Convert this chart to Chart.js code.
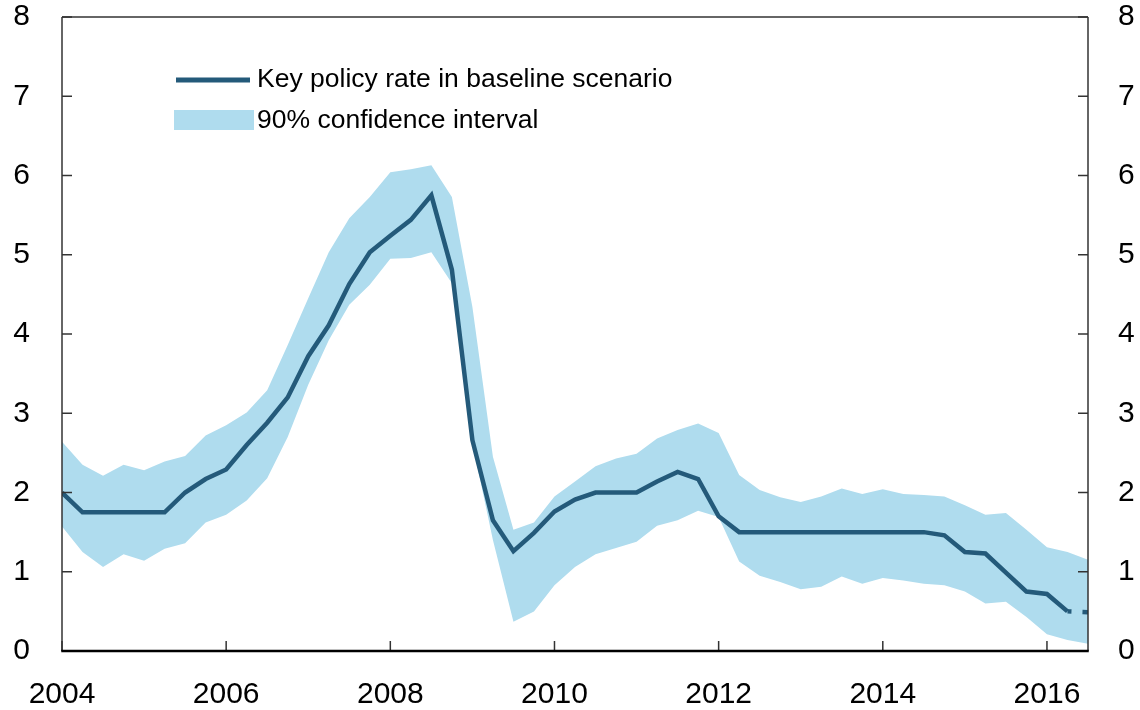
<!DOCTYPE html>
<html>
<head>
<meta charset="utf-8">
<script src="https://cdn.jsdelivr.net/npm/chart.js@4/dist/chart.umd.min.js"></script>
<style>
  html, body { margin: 0; padding: 0; background: #ffffff; }
  #wrap { position: relative; width: 1140px; height: 710px; }
</style>
</head>
<body>
<div id="wrap"><canvas id="c" width="1140" height="710"></canvas></div>
<script>
// Quarterly observations, 2004 Q1 - 2016 Q3
const quarters = [
  "2004Q1","2004Q2","2004Q3","2004Q4","2005Q1","2005Q2","2005Q3","2005Q4",
  "2006Q1","2006Q2","2006Q3","2006Q4","2007Q1","2007Q2","2007Q3","2007Q4",
  "2008Q1","2008Q2","2008Q3","2008Q4","2009Q1","2009Q2","2009Q3","2009Q4",
  "2010Q1","2010Q2","2010Q3","2010Q4","2011Q1","2011Q2","2011Q3","2011Q4",
  "2012Q1","2012Q2","2012Q3","2012Q4","2013Q1","2013Q2","2013Q3","2013Q4",
  "2014Q1","2014Q2","2014Q3","2014Q4","2015Q1","2015Q2","2015Q3","2015Q4",
  "2016Q1","2016Q2","2016Q3"
];
const policyRate = [
  2.00,1.75,1.75,1.75,1.75,1.75,2.00,2.17,
  2.29,2.60,2.88,3.20,3.72,4.11,4.63,5.03,
  5.24,5.44,5.75,4.81,2.66,1.65,1.26,1.49,
  1.76,1.91,2.00,2.00,2.00,2.14,2.26,2.17,
  1.70,1.50,1.50,1.50,1.50,1.50,1.50,1.50,
  1.50,1.50,1.50,1.46,1.25,1.23,0.99,0.75,
  0.72,0.50,0.49
];
const upperBand = [
  2.64,2.35,2.21,2.35,2.28,2.39,2.46,2.72,
  2.85,3.01,3.29,3.86,4.45,5.03,5.46,5.73,
  6.04,6.08,6.13,5.73,4.34,2.45,1.53,1.62,
  1.95,2.14,2.33,2.43,2.49,2.68,2.79,2.87,
  2.75,2.22,2.03,1.94,1.88,1.95,2.05,1.98,
  2.04,1.98,1.97,1.95,1.84,1.72,1.74,1.53,
  1.31,1.25,1.15
];
const lowerBand = [
  1.57,1.25,1.06,1.22,1.14,1.29,1.36,1.62,
  1.72,1.90,2.18,2.70,3.36,3.92,4.37,4.62,
  4.95,4.96,5.03,4.64,2.62,1.40,0.37,0.50,
  0.83,1.06,1.22,1.30,1.38,1.58,1.65,1.77,
  1.69,1.13,0.95,0.87,0.78,0.81,0.94,0.85,
  0.92,0.89,0.85,0.83,0.75,0.60,0.62,0.43,
  0.21,0.14,0.09
];
const yearTicks = [2004, 2006, 2008, 2010, 2012, 2014, 2016];
const valueTicks = [0, 1, 2, 3, 4, 5, 6, 7, 8];
const seriesNames = ["Key policy rate in baseline scenario", "90% confidence interval"];

const LINE_COLOR = "#245a7a";
const BAND_COLOR = "#afdcee";
const FONT = "'Liberation Sans', Arial, Helvetica, sans-serif";

function qToX(q) {
  const y = parseInt(q.slice(0, 4), 10);
  const n = parseInt(q.slice(5), 10);
  return y + (n - 1) / 4;
}
const xs = quarters.map(qToX);
const toPts = arr => arr.map((v, i) => ({ x: xs[i], y: v }));
const lastIdx = quarters.length - 1;

const framePlugin = {
  id: 'frame',
  afterDraw(chart) {
    const ctx = chart.ctx;
    const a = chart.chartArea;
    const xS = chart.scales.x, yS = chart.scales.y;
    ctx.save();
    ctx.strokeStyle = "#333333";
    ctx.lineWidth = 1.5;
    ctx.beginPath(); ctx.moveTo(a.left, a.top); ctx.lineTo(a.right, a.top); ctx.stroke();
    ctx.beginPath(); ctx.moveTo(a.left, a.top); ctx.lineTo(a.left, a.bottom); ctx.stroke();
    ctx.beginPath(); ctx.moveTo(a.right, a.top); ctx.lineTo(a.right, a.bottom); ctx.stroke();
    valueTicks.forEach(v => {
      const py = yS.getPixelForValue(v);
      ctx.beginPath(); ctx.moveTo(a.left, py); ctx.lineTo(a.left + 10, py); ctx.stroke();
      ctx.beginPath(); ctx.moveTo(a.right, py); ctx.lineTo(a.right - 10, py); ctx.stroke();
    });
    yearTicks.forEach(t => {
      const px = xS.getPixelForValue(t);
      ctx.beginPath(); ctx.moveTo(px, a.bottom); ctx.lineTo(px, a.bottom - 10); ctx.stroke();
    });
    ctx.strokeStyle = "#000000";
    ctx.lineWidth = 2.5;
    ctx.beginPath(); ctx.moveTo(a.left - 0.75, a.bottom); ctx.lineTo(a.right + 0.75, a.bottom); ctx.stroke();

    // legend
    const lx = a.left + 112;
    ctx.strokeStyle = LINE_COLOR;
    ctx.lineWidth = 5;
    ctx.beginPath(); ctx.moveTo(lx + 2, a.top + 63); ctx.lineTo(lx + 76, a.top + 63); ctx.stroke();
    ctx.fillStyle = BAND_COLOR;
    ctx.fillRect(lx, a.top + 93, 80, 20);
    ctx.fillStyle = "#000000";
    ctx.font = "26.5px " + FONT;
    ctx.textBaseline = "middle";
    ctx.textAlign = "left";
    ctx.fillText(seriesNames[0], lx + 83, a.top + 63);
    ctx.fillText(seriesNames[1], lx + 83, a.top + 104);
    ctx.restore();
  }
};

const noPad = s => { s.paddingTop = 0; s.paddingBottom = 0; };

new Chart(document.getElementById('c'), {
  type: 'line',
  data: {
    datasets: [
      {
        label: seriesNames[0],
        data: toPts(policyRate),
        borderColor: LINE_COLOR,
        borderWidth: 4.5,
        pointRadius: 0,
        fill: false,
        tension: 0,
        borderCapStyle: 'butt',
        borderJoinStyle: 'miter',
        segment: {
          borderDash: c => (c.p1DataIndex === lastIdx ? [4, 11, 8, 20] : undefined)
        }
      },
      {
        label: seriesNames[1],
        data: toPts(upperBand),
        borderWidth: 0,
        borderColor: 'rgba(0,0,0,0)',
        backgroundColor: BAND_COLOR,
        pointRadius: 0,
        fill: '+1',
        tension: 0
      },
      {
        label: 'lower',
        data: toPts(lowerBand),
        borderWidth: 0,
        borderColor: 'rgba(0,0,0,0)',
        pointRadius: 0,
        fill: false,
        tension: 0
      }
    ]
  },
  options: {
    responsive: false,
    animation: false,
    devicePixelRatio: 1,
    layout: { padding: { top: 17, left: 0, right: 0, bottom: 0 } },
    plugins: { legend: { display: false }, tooltip: { enabled: false } },
    scales: {
      x: {
        type: 'linear',
        min: 2004, max: 2016.5,
        afterBuildTicks: s => { s.ticks = yearTicks.map(v => ({ value: v })); },
        ticks: {
          callback: v => String(v),
          color: '#000000',
          font: { family: FONT, size: 30 },
          padding: 26,
          maxRotation: 0,
          autoSkip: false
        },
        grid: { display: false, drawTicks: false },
        border: { display: false },
        afterFit: s => { s.height = 59; }
      },
      y: {
        position: 'left',
        min: 0, max: 8,
        afterBuildTicks: s => { s.ticks = valueTicks.map(v => ({ value: v })); },
        ticks: { color: '#000000', font: { family: FONT, size: 30 }, padding: 32 },
        grid: { display: false, drawTicks: false },
        border: { display: false },
        afterFit: s => { s.width = 62; noPad(s); }
      },
      y2: {
        position: 'right',
        min: 0, max: 8,
        afterBuildTicks: s => { s.ticks = valueTicks.map(v => ({ value: v })); },
        ticks: { color: '#000000', font: { family: FONT, size: 30 }, padding: 30 },
        grid: { display: false, drawTicks: false },
        border: { display: false },
        afterFit: s => { s.width = 52; noPad(s); }
      }
    }
  },
  plugins: [framePlugin]
});
</script>
</body>
</html>
